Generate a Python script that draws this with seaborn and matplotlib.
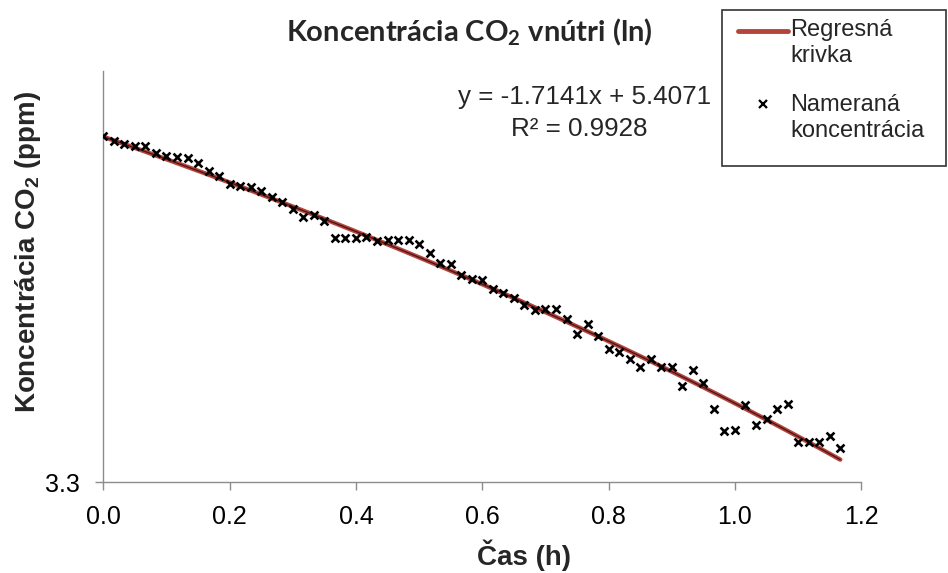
import matplotlib
matplotlib.use("Agg")
import matplotlib.pyplot as plt
import matplotlib.patches as mpatches
from matplotlib.lines import Line2D
from matplotlib.ticker import FixedLocator, NullLocator, FormatStrFormatter
import seaborn as sns
import pandas as pd
import numpy as np

# ---- data ----
time_min = [0, 1, 2, 3, 4, 5, 6, 7, 8, 9, 10, 11, 12, 13, 14, 15, 16, 17, 18, 19,
            20, 21, 22, 23, 24, 25, 26, 27, 28, 29, 30, 31, 32, 33, 34, 35, 36, 37, 38, 39,
            40, 41, 42, 43, 44, 45, 46, 47, 48, 49, 50, 51, 52, 53, 54, 55, 56, 57, 58, 59,
            60, 61, 62, 63, 64, 65, 66, 67, 68, 69, 70]
ln_co2 = [5.415, 5.376, 5.351, 5.338, 5.338, 5.285, 5.258, 5.251, 5.247, 5.210,
          5.148, 5.110, 5.056, 5.040, 5.029, 5.006, 4.959, 4.922, 4.878, 4.818,
          4.835, 4.794, 4.675, 4.675, 4.680, 4.684, 4.659, 4.662, 4.663, 4.665,
          4.639, 4.581, 4.514, 4.510, 4.438, 4.414, 4.408, 4.352, 4.323, 4.292,
          4.252, 4.221, 4.226, 4.227, 4.166, 4.075, 4.134, 4.064, 3.993, 3.975,
          3.935, 3.888, 3.935, 3.888, 3.888, 3.784, 3.871, 3.804, 3.664, 3.552,
          3.553, 3.686, 3.580, 3.613, 3.664, 3.688, 3.495, 3.495, 3.495, 3.525,
          3.462]
slope = -1.7141
intercept = 5.4071
r2 = 0.9928
x_ticks = [0.0, 0.2, 0.4, 0.6, 0.8, 1.0, 1.2]
y_ticks = [3.3]

title = "Koncentrácia CO$_\\mathregular{2}$ vnútri (ln)"
xlabel = "Čas (h)"
ylabel = "Koncentrácia CO$_\\mathregular{2}$ (ppm)"
label_line = "Regresná\nkrivka"
label_pts = "Nameraná\nkoncentrácia"

# ---- figure ----
sns.set_theme(style="white")
plt.rcParams['font.family'] = ['Liberation Sans', 'DejaVu Sans']
plt.rcParams['mathtext.fontset'] = 'custom'
plt.rcParams['mathtext.rm'] = 'Liberation Sans'
plt.rcParams['mathtext.bf'] = 'Liberation Sans:bold'

W, H = 948, 573
fig = plt.figure(figsize=(W / 100, H / 100), dpi=100)
fig.patch.set_facecolor("white")
ax = fig.add_axes([103.3 / W, 91 / H, 758 / W, 411 / H])

df = pd.DataFrame({"t": np.array(time_min) / 60.0, "y": ln_co2})
fit = pd.DataFrame({"t": np.linspace(df["t"].min(), df["t"].max(), 100)})
fit["y"] = slope * fit["t"] + intercept

line_color = "#B4443E"
sns.lineplot(data=fit, x="t", y="y", ax=ax, color=line_color, lw=3.2, zorder=2)
sns.lineplot(data=fit, x="t", y="y", ax=ax, color="#4a1412", lw=0.9, zorder=2.1)
sns.scatterplot(data=df, x="t", y="y", ax=ax, marker="x", color="black",
                s=32, linewidth=1.9, zorder=3)

ax.set_yscale("log")
ax.set_xlim(0, 1.2)
ax.set_ylim(3.3, 5.94)
ax.xaxis.set_major_locator(FixedLocator(x_ticks))
ax.xaxis.set_major_formatter(FormatStrFormatter("%.1f"))
ax.yaxis.set_major_locator(FixedLocator(y_ticks))
ax.yaxis.set_major_formatter(FormatStrFormatter("%.1f"))
ax.yaxis.set_minor_locator(NullLocator())
ax.set_xlabel("")
ax.set_ylabel("")

for s in ["top", "right"]:
    ax.spines[s].set_visible(False)
for s in ["left", "bottom"]:
    ax.spines[s].set_color("#8c8c8c")
    ax.spines[s].set_linewidth(1.0)
ax.tick_params(axis="both", which="major", direction="out", length=5.8, width=1.0,
               color="#8c8c8c", labelsize=18, labelcolor="black", pad=11,
               bottom=True, left=True)

# titles
fig.text(469 / W, 1 - 32 / H, title, ha="center", va="center",
         fontsize=21, fontweight="bold", family=["Lato", "DejaVu Sans"])
fig.text(524 / W, 1 - 555 / H, xlabel, ha="center", va="center",
         fontsize=20, fontweight="bold")
fig.text(28 / W, 1 - 252 / H, ylabel, ha="center", va="center",
         rotation=90, fontsize=20, fontweight="bold")

# equation
fig.text(585 / W, 1 - 97 / H, "y = -1.7141x + 5.4071", ha="center", va="center",
         fontsize=18.7)
fig.text(579 / W, 1 - 129 / H, "R² = 0.9928", ha="center", va="center",
         fontsize=18.7)

# legend (box, handles and labels placed in figure coordinates)
rect = mpatches.Rectangle((722 / W, 1 - 166 / H), (946 - 722) / W, 156 / H,
                          transform=fig.transFigure, fill=False,
                          edgecolor="#333333", lw=1.2)
fig.patches.append(rect)
fig.add_artist(Line2D([738 / W, 788 / W], [1 - 31 / H, 1 - 31 / H],
                      transform=fig.transFigure, color=line_color, lw=3.5))
fig.add_artist(Line2D([763 / W], [1 - 104 / H], transform=fig.transFigure,
                      marker="x", color="black", lw=0, markersize=6,
                      markeredgewidth=1.6))
fig.text(790 / W, 1 - 19 / H, label_line, ha="left", va="top",
         fontsize=17, linespacing=1.22)
fig.text(790 / W, 1 - 94 / H, label_pts, ha="left", va="top",
         fontsize=17, linespacing=1.22)

fig.savefig("out.png", dpi=100, facecolor="white")
